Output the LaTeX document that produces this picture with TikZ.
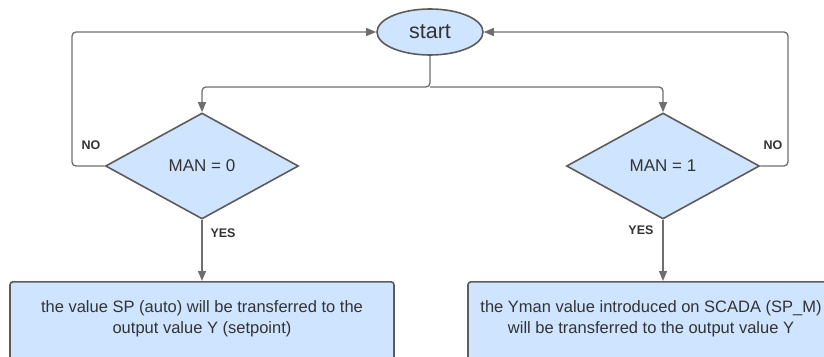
\documentclass[tikz,border=0pt]{standalone}
\usepackage{fontspec}
\setmainfont{Liberation Sans}
\usetikzlibrary{arrows.meta,shapes.geometric}
\definecolor{paleblue}{HTML}{CFE4FF}
\definecolor{edgegrey}{HTML}{5C5C5C}
\definecolor{linegrey}{HTML}{6E6E6E}
\definecolor{txtgrey}{HTML}{333333}
\begin{document}
\begin{tikzpicture}[x=1pt,y=-1pt,font=\color{txtgrey},
    shape border/.style={draw=edgegrey,fill=paleblue,line width=1.6pt},
    decision/.style={shape border,diamond,aspect=1.82,minimum width=193pt,minimum height=106pt,inner sep=0pt,font=\fontsize{17}{20}\selectfont\color{txtgrey}},
    outbox/.style={shape border,rounded corners=3pt,minimum width=384pt,minimum height=90pt,anchor=north,align=center,text depth=20pt,font=\fontsize{16.5}{21}\selectfont\color{txtgrey}},
    arr/.style={draw=linegrey,line width=1.3pt,rounded corners=4pt,-{Triangle[length=10pt,width=8pt]}},
    tag/.style={font=\fontsize{12.5}{14}\selectfont\bfseries\color{txtgrey}}]
  \useasboundingbox (0,0) rectangle (824,356);
  \node[shape border,ellipse,minimum width=106pt,minimum height=46pt,inner sep=0pt,font=\fontsize{21.5}{24}\selectfont\color{txtgrey}] (start) at (430,32) {start};
  \node[decision] (man0) at (202,166) {MAN = 0};
  \node[decision] (man1) at (663,166) {MAN = 1};
  \node[outbox] (auto) at (202,281) {the value SP (auto) will be transferred to the\\output value Y (setpoint)};
  \node[outbox,minimum width=366pt] (manual) at (651,281) {the Yman value introduced on SCADA (SP\_M)\\will be transferred to the output value Y};
  % branch to both tests
  \coordinate (split) at (430,87);
  \draw[arr] (start.south) -- (split) -| (man0.north);
  \draw[arr] (split) -| (man1.north);
  % NO loops back to start
  \coordinate (noleft) at (72,32);
  \coordinate (noright) at (788,32);
  \draw[arr] (man0.west) -| (noleft) -- (start.west);
  \draw[arr] (man1.east) -| (noright) -- (start.east);
  \node[tag] (noA) at (91,145) {NO};
  \node[tag] (noB) at (773,145) {NO};
  % YES to actions
  \draw[arr] (man0.south) -- (auto.north);
  \draw[arr] (man1.south) -- (man1.south |- manual.north);
  \node[tag,anchor=west] (yesA) at (207,233) {YES};
  \node[tag,anchor=east] (yesB) at (657,230) {YES};
\end{tikzpicture}
\end{document}
